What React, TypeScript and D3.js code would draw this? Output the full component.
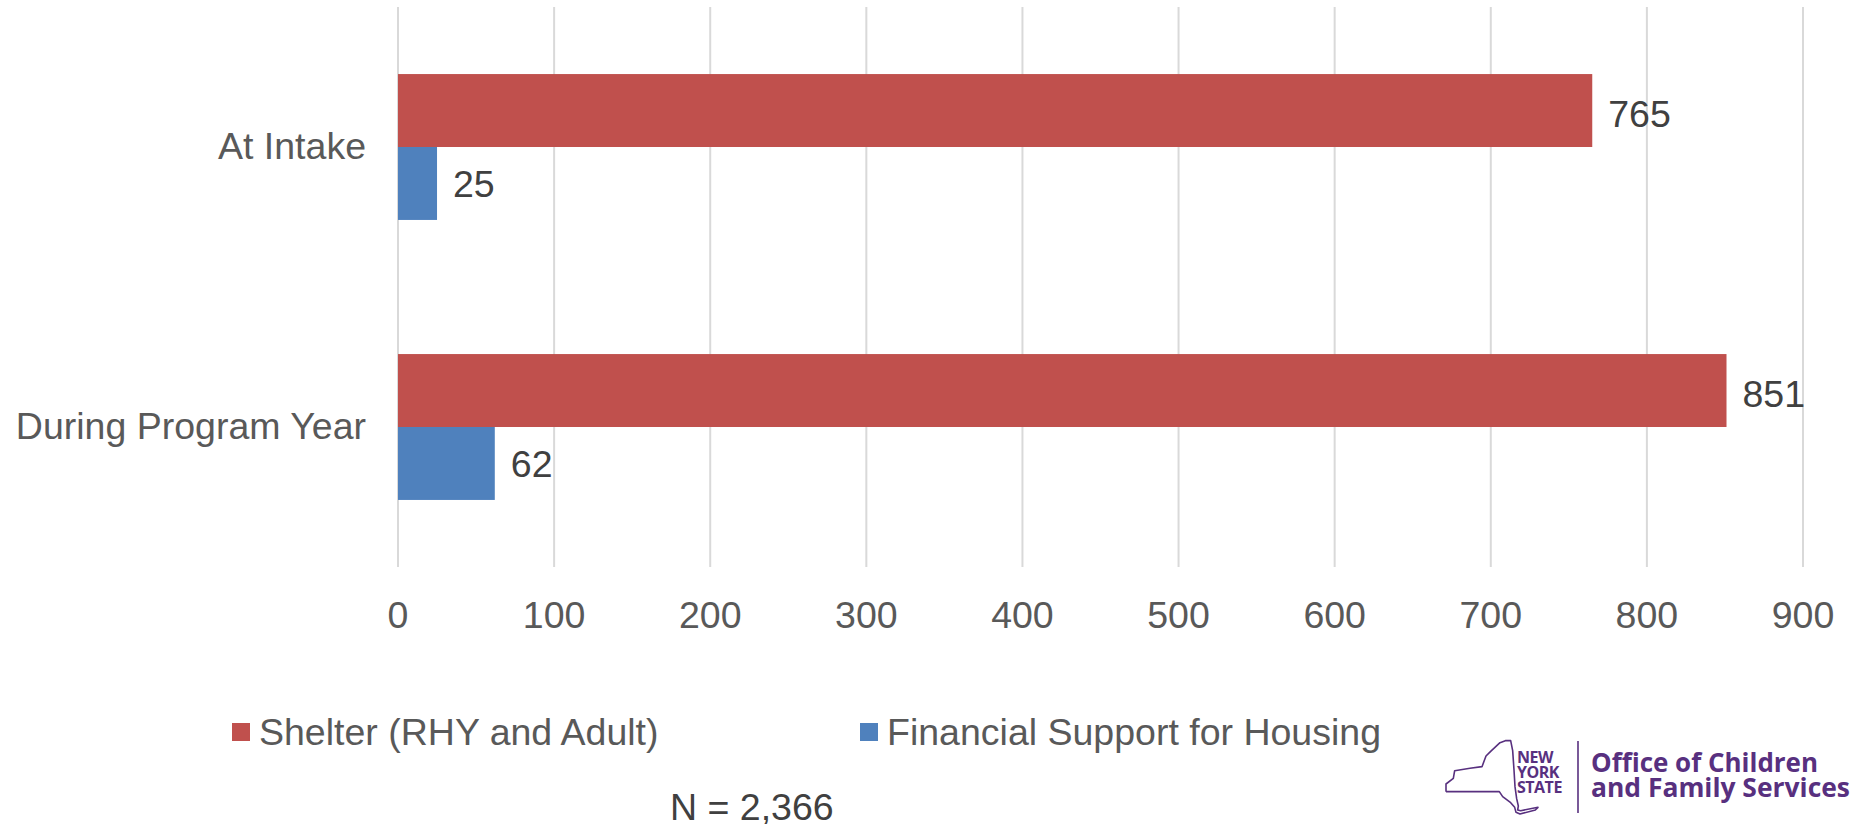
import React from "react";
import * as d3 from "d3";

const categories = ["At Intake", "During Program Year"];
const seriesNames = ["Shelter (RHY and Adult)", "Financial Support for Housing"];
const shelterValues = [765, 851];
const financialValues = [25, 62];
const xTicks = [0, 100, 200, 300, 400, 500, 600, 700, 800, 900];
const seriesColors = ["#C0504D", "#4F81BD"];
const noteText = "N = 2,366";

const W = 1856;
const H = 824;
const FONT = "'Liberation Sans', Arial, sans-serif";
const PURPLE = "#58307F";

const nyOutline: [number, number][] = [
  [78, 215], [78, 192], [100, 175], [104, 152], [150, 145], [186, 140], [198, 108],
  [212, 94], [240, 68], [256, 62], [272, 62], [278, 92], [282, 150], [285, 200],
  [290, 236], [295, 258], [293, 270], [302, 272], [354, 262], [346, 270], [300, 282],
  [288, 277], [284, 262], [272, 248], [248, 230], [238, 215], [78, 215],
];

export default function App() {
  const x = d3.scaleLinear().domain([0, 900]).range([398, 1803]);
  const y0 = d3.scaleBand<string>().domain(categories).range([7, 567]).paddingInner(0.479).paddingOuter(0.2395);
  const y1 = d3.scaleBand<number>().domain([0, 1]).range([0, y0.bandwidth()]);
  const series = [shelterValues, financialValues];
  const labelDy = ["0.44em", "0.37em"];

  const line = d3.line<[number, number]>().x((d) => 1420 + d[0] / 3).y((d) => 720 + d[1] / 3);

  return (
    <svg width={W} height={H} style={{ position: "absolute", left: 0, top: 0, background: "#fff" }} fontFamily={FONT}>
      <rect width={W} height={H} fill="#fff" />
      {xTicks.map((t) => (
        <line key={"g" + t} x1={x(t)} x2={x(t)} y1={7} y2={567} stroke="#D9D9D9" strokeWidth={2} />
      ))}
      {categories.map((c, ci) =>
        series.map((vals, si) => {
          const yy = (y0(c) ?? 0) + (y1(si) ?? 0);
          const bh = y1.bandwidth();
          return (
            <g key={c + si}>
              <rect x={x(0)} y={yy} width={x(vals[ci]) - x(0)} height={bh} fill={seriesColors[si]} />
              <text x={x(vals[ci]) + 16} y={yy + bh / 2} dy={labelDy[si]} fontSize={37.5} fill="#404040">
                {vals[ci]}
              </text>
            </g>
          );
        })
      )}
      {categories.map((c) => (
        <text key={"c" + c} x={366} y={(y0(c) ?? 0) + y0.bandwidth() / 2} dy="0.31em" textAnchor="end" fontSize={37.5} fill="#595959">
          {c}
        </text>
      ))}
      {xTicks.map((t) => (
        <text key={"t" + t} x={x(t)} y={628} textAnchor="middle" fontSize={37.5} fill="#595959">
          {t}
        </text>
      ))}
      {seriesNames.map((n, i) => {
        const lx = i === 0 ? 232 : 860;
        return (
          <g key={"l" + i}>
            <rect x={lx} y={723} width={18} height={18} fill={seriesColors[i]} />
            <text x={lx + 27} y={745} fontSize={37.5} fill="#595959">
              {n}
            </text>
          </g>
        );
      })}
      <text x={670} y={820} fontSize={37.5} fill="#404040">
        {noteText}
      </text>
      <g>
        <path d={line(nyOutline) ?? ""} fill="none" stroke={PURPLE} strokeWidth={1.6} strokeLinejoin="round" />
        <text x={1517} y={763} fontSize={16} fontWeight="bold" fill={PURPLE} fontFamily="'Open Sans', sans-serif" letterSpacing={-0.5}>NEW</text>
        <text x={1517} y={778} fontSize={16} fontWeight="bold" fill={PURPLE} fontFamily="'Open Sans', sans-serif" letterSpacing={-0.5}>YORK</text>
        <text x={1517} y={793} fontSize={16} fontWeight="bold" fill={PURPLE} fontFamily="'Open Sans', sans-serif" letterSpacing={-0.5}>STATE</text>
        <line x1={1578} x2={1578} y1={741} y2={813} stroke={PURPLE} strokeWidth={1.6} />
        <text x={1591} y={772} fontSize={27} fontWeight="bold" fill={PURPLE} fontFamily="'Open Sans', sans-serif" textLength={227} lengthAdjust="spacingAndGlyphs">Office of Children</text>
        <text x={1591} y={797} fontSize={27} fontWeight="bold" fill={PURPLE} fontFamily="'Open Sans', sans-serif" textLength={259} lengthAdjust="spacingAndGlyphs">and Family Services</text>
      </g>
    </svg>
  );
}
